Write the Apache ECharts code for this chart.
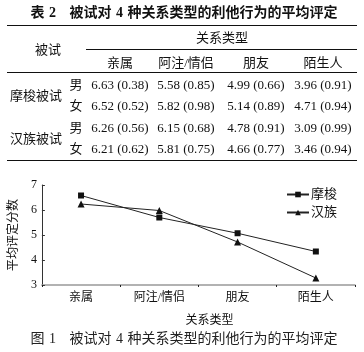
<!DOCTYPE html>
<html>
<head>
    <meta charset="UTF-8">
    <title>被试对4种关系类型的利他行为的平均评定</title>
    <script src="https://cdn.jsdelivr.net/npm/echarts@6/dist/echarts.min.js"></script>
    <style>
        html, body {
            margin: 0;
            padding: 0;
            background: #fff;
        }

        #page {
            position: relative;
            width: 364px;
            height: 352px;
            overflow: hidden;
            font-family: "Liberation Serif", "Noto Sans CJK SC", serif;
            color: #111;
        }

        #chart {
            position: absolute;
            left: 0;
            top: 0;
            width: 364px;
            height: 352px;
        }

        .t {
            position: absolute;
            white-space: pre;
            transform: translate(-50%, -50%);
            font-size: 13px;
            line-height: 1;
        }

        .rule {
            position: absolute;
            height: 0;
            border-top: 1px solid #111;
        }
    </style>
</head>
<body>
<div id="page">
    <div id="chart"></div>
</div>
<script>
    // 表 2 数据：平均值 (标准差)
    var categories = ['亲属', '阿注/情侣', '朋友', '陌生人'];
    var groups = ['摩梭被试', '汉族被试'];
    var sexes = ['男', '女'];
    var mosuoMaleMean = [6.63, 5.58, 4.99, 3.96];
    var mosuoMaleSd = [0.38, 0.85, 0.66, 0.91];
    var mosuoFemaleMean = [6.52, 5.82, 5.14, 4.71];
    var mosuoFemaleSd = [0.52, 0.98, 0.89, 0.94];
    var hanMaleMean = [6.26, 6.15, 4.78, 3.09];
    var hanMaleSd = [0.56, 0.68, 0.91, 0.99];
    var hanFemaleMean = [6.21, 5.81, 4.66, 3.46];
    var hanFemaleSd = [0.62, 0.75, 0.77, 0.94];

    // 图 1 数据
    var seriesNames = ['摩梭', '汉族'];
    var mosuoScores = [6.58, 5.70, 5.07, 4.34];
    var hanScores = [6.24, 5.98, 4.72, 3.28];
    var yTicks = [3, 4, 5, 6, 7];

    var tableTitle = '表 2   被试对 4 种关系类型的利他行为的平均评定';
    var figCaption = '图 1   被试对 4 种关系类型的利他行为的平均评定';

    // ---- table layout ----
    var page = document.getElementById('page');
    var colX = [120, 186, 256, 323];
    var rowY = [84, 105, 127, 148];

    function addText(txt, x, y, extra) {
        var d = document.createElement('div');
        d.className = 't';
        d.textContent = txt;
        d.style.left = x + 'px';
        d.style.top = y + 'px';
        if (extra) {
            for (var k in extra) d.style[k] = extra[k];
        }
        page.appendChild(d);
    }

    function addRule(x1, x2, y, w) {
        var d = document.createElement('div');
        d.className = 'rule';
        d.style.left = x1 + 'px';
        d.style.width = (x2 - x1) + 'px';
        d.style.top = y + 'px';
        d.style.borderTopWidth = (w || 1) + 'px';
        page.appendChild(d);
    }

    addText(tableTitle, 184, 13, {fontWeight: 'bold', fontSize: '14px', wordSpacing: '1px'});
    addRule(7, 357, 25, 1.5);
    addText('关系类型', 222, 37);
    addText('被试', 48, 49);
    addRule(86, 357, 49, 1);
    categories.forEach(function (c, i) {
        addText(c, colX[i], 62);
    });
    addRule(7, 357, 72, 1);

    var rows = [
        [mosuoMaleMean, mosuoMaleSd],
        [mosuoFemaleMean, mosuoFemaleSd],
        [hanMaleMean, hanMaleSd],
        [hanFemaleMean, hanFemaleSd]
    ];
    rows.forEach(function (r, i) {
        addText(sexes[i % 2], 76, rowY[i]);
        r[0].forEach(function (m, j) {
            addText(m.toFixed(2) + ' (' + r[1][j].toFixed(2) + ')', colX[j], rowY[i]);
        });
    });
    groups.forEach(function (g, i) {
        addText(g, 36, (rowY[i * 2] + rowY[i * 2 + 1]) / 2);
    });
    addRule(7, 357, 160, 1.5);

    addText(figCaption, 184, 339, {fontSize: '14px', wordSpacing: '1px', color: '#222'});

    // ---- chart ----
    var chart = echarts.init(document.getElementById('chart'), null, {renderer: 'canvas'});
    var cjk = '"Liberation Serif", "Noto Sans CJK SC", serif';
    chart.setOption({
        animation: false,
        grid: {left: 35, right: 9, top: 185, height: 100},
        legend: {
            orient: 'vertical',
            right: 22,
            top: 183,
            itemWidth: 22,
            itemHeight: 7,
            itemGap: 5,
            textStyle: {fontFamily: cjk, fontSize: 13, color: '#111', padding: [0, 0, 0, -3]},
            data: seriesNames
        },
        xAxis: {
            type: 'category',
            data: categories,
            boundaryGap: true,
            name: '关系类型',
            nameLocation: 'middle',
            nameGap: 30,
            nameTextStyle: {fontFamily: cjk, fontSize: 12, color: '#111', padding: [0, 0, 0, 22]},
            axisLine: {lineStyle: {color: '#999', width: 1.5}},
            axisTick: {show: true, length: 2, lineStyle: {color: '#222'}},
            axisLabel: {fontFamily: cjk, fontSize: 12, color: '#111', margin: 7}
        },
        yAxis: {
            type: 'value',
            min: yTicks[0],
            max: yTicks[yTicks.length - 1],
            interval: 1,
            name: '平均评定分数',
            nameLocation: 'middle',
            nameGap: 20,
            nameTextStyle: {fontFamily: cjk, fontSize: 12, color: '#111'},
            splitLine: {show: false},
            axisLine: {show: true, lineStyle: {color: '#333', width: 1}},
            axisTick: {show: true, inside: true, length: 3, lineStyle: {color: '#333'}},
            axisLabel: {fontFamily: '"Liberation Serif", serif', fontSize: 12, color: '#111', margin: 5}
        },
        series: [
            {
                name: seriesNames[0],
                type: 'line',
                data: mosuoScores,
                symbol: 'rect',
                symbolSize: 6,
                itemStyle: {color: '#111'},
                lineStyle: {color: '#222', width: 1}
            },
            {
                name: seriesNames[1],
                type: 'line',
                data: hanScores,
                symbol: 'triangle',
                symbolSize: 7,
                itemStyle: {color: '#111'},
                lineStyle: {color: '#222', width: 1}
            }
        ]
    });
</script>
</body>
</html>
